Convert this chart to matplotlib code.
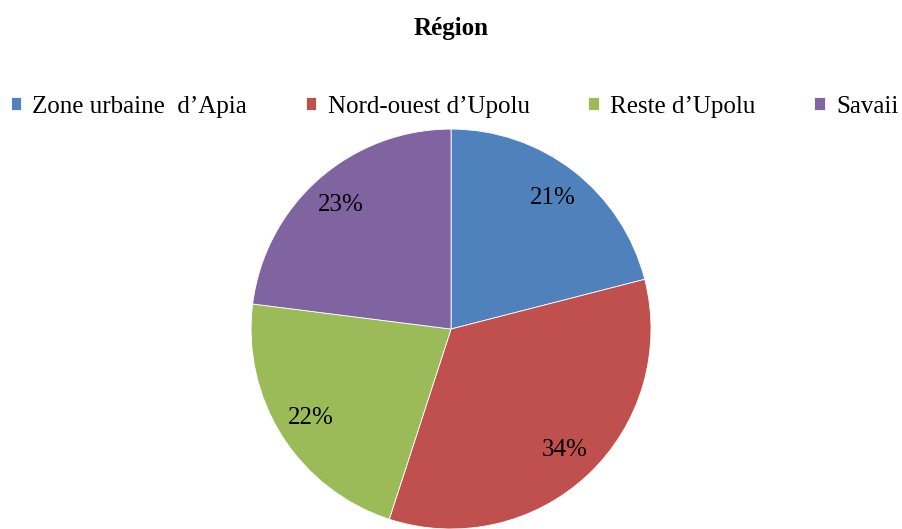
import matplotlib

matplotlib.use("Agg")
import matplotlib.pyplot as plt

plt.rcParams["font.family"] = ["Liberation Serif", "DejaVu Serif"]

regions = ["Zone urbaine  d\u2019Apia", "Nord-ouest d\u2019Upolu", "Reste d\u2019Upolu", "Savaii"]
parts = [21, 34, 22, 23]
colors = ["#4F81BD", "#C0504D", "#9BBB59", "#8064A2"]

fig = plt.figure(figsize=(9.02, 5.29), dpi=100)
ax = fig.add_axes([0.5 - 0.2217, 0.0, 0.4435, 0.756])

wedges, _, autotexts = ax.pie(
    parts,
    colors=colors,
    startangle=90,
    counterclock=False,
    autopct="%d%%",
    pctdistance=0.83,
    radius=1.0,
    wedgeprops={"edgecolor": "white", "linewidth": 0.6},
    textprops={"fontsize": 18, "color": "black"},
)
ax.set_xlim(-1, 1)
ax.set_ylim(-1, 1)
ax.set_aspect("equal")
ax.axis("off")

fig.text(0.5, 0.946, "Région", ha="center", va="center", fontsize=18, fontweight="bold")

fig.legend(
    wedges,
    regions,
    loc="center",
    bbox_to_anchor=(0.504, 0.798),
    ncol=4,
    frameon=False,
    fontsize=18,
    handlelength=0.42,
    handleheight=0.42,
    handletextpad=0.45,
    columnspacing=2.35,
)

fig.savefig("out.png", dpi=100)
